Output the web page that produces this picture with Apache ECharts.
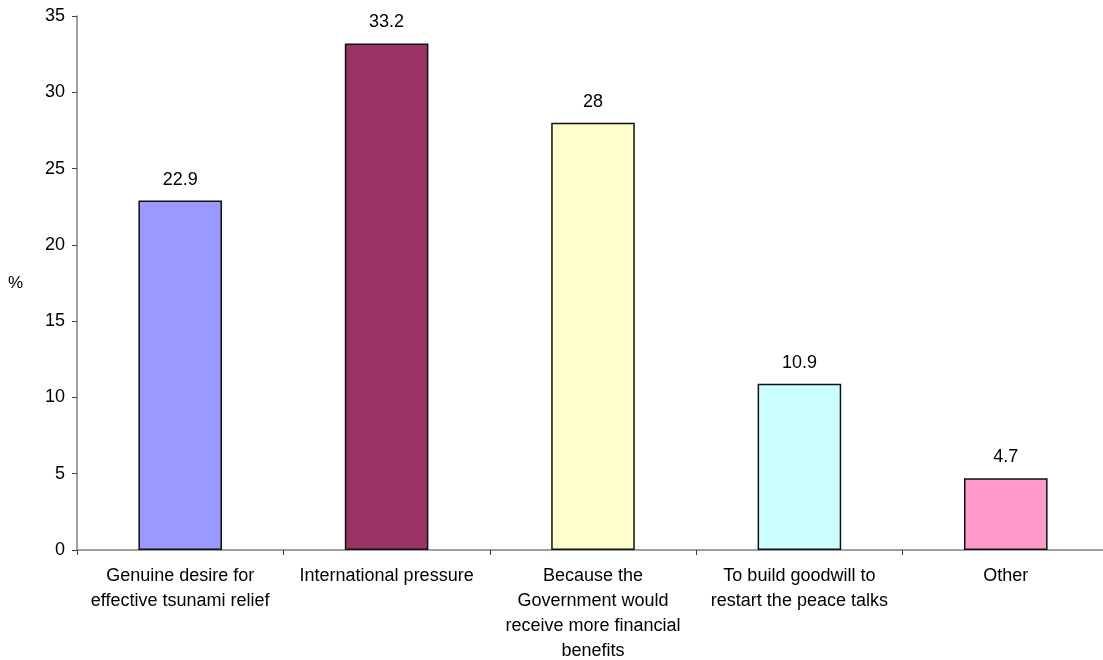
<!DOCTYPE html>
<html>
<head>
<meta charset="utf-8">
<script src="https://cdn.jsdelivr.net/npm/echarts@6/dist/echarts.min.js"></script>
<style>html,body{margin:0;padding:0;background:#fff}#c{width:1103px;height:660px}</style>
</head>
<body>
<div id="c"></div>
<script>
const categories = [
  "Genuine desire for\neffective tsunami relief",
  "International pressure",
  "Because the\nGovernment would\nreceive more financial\nbenefits",
  "To build goodwill to\nrestart the peace talks",
  "Other"
];
const values = [22.9, 33.2, 28, 10.9, 4.7];
const barColors = ["#9999FF", "#993366", "#FFFFCC", "#CCFFFF", "#FF99CC"];
const yTicks = [0, 5, 10, 15, 20, 25, 30, 35];
const yName = "%";

const font = "'Liberation Sans', Arial, sans-serif";
const chart = echarts.init(document.getElementById('c'), null, {renderer: 'canvas'});
chart.setOption({
  animation: false,
  backgroundColor: '#ffffff',
  grid: {left: 77, right: -6, top: 16, bottom: 110, containLabel: false, outerBoundsMode: 'none'},
  xAxis: {
    type: 'category',
    data: categories,
    axisLine: {lineStyle: {color: '#808080', width: 1.5}},
    axisTick: {show: true, alignWithLabel: false, length: 5, lineStyle: {color: '#404040'}},
    axisLabel: {interval: 0, color: '#000', fontFamily: font, fontSize: 18, lineHeight: 25, margin: 14}
  },
  yAxis: {
    type: 'value',
    min: yTicks[0],
    max: yTicks[yTicks.length - 1],
    interval: 5,
    name: yName,
    nameLocation: 'middle',
    nameRotate: 0,
    nameGap: 54,
    nameTextStyle: {color: '#000', fontFamily: font, fontSize: 17},
    splitLine: {show: false},
    axisLine: {show: true, lineStyle: {color: '#808080', width: 1.5}},
    axisTick: {show: true, length: 5, lineStyle: {color: '#404040'}},
    axisLabel: {color: '#000', fontFamily: font, fontSize: 18, margin: 12}
  },
  series: [{
    type: 'bar',
    barWidth: '40.5%',
    data: values.map((v, i) => ({value: v, itemStyle: {color: barColors[i]}})),
    itemStyle: {borderColor: '#111', borderWidth: 1.5},
    label: {show: true, position: 'top', distance: 12, color: '#000', fontFamily: font, fontSize: 18}
  }]
});
</script>
</body>
</html>
